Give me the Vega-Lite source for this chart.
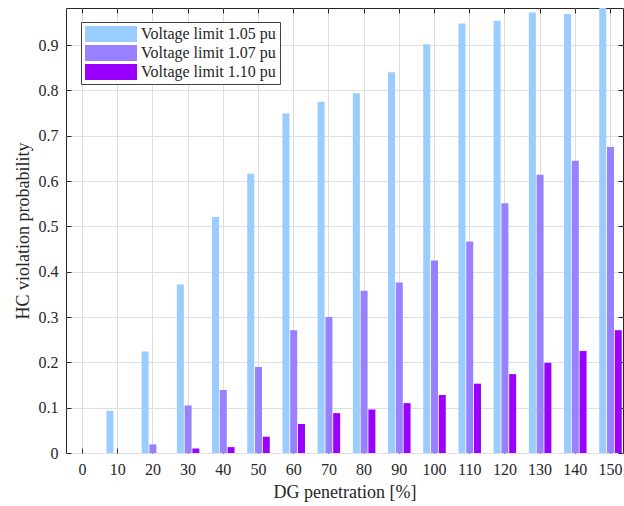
{
  "$schema": "https://vega.github.io/schema/vega-lite/v6.json",
  "width": 557,
  "height": 445,
  "autosize": {"type": "none"},
  "padding": {"left": 66, "top": 8, "right": 1, "bottom": 53},
  "config": {
    "view": {"stroke": "#262626", "strokeWidth": 1},
    "font": "Liberation Serif",
    "axis": {
      "labelFont": "Liberation Serif",
      "labelFontSize": 16,
      "labelColor": "#262626",
      "titleFont": "Liberation Serif",
      "titleFontSize": 18,
      "titleFontWeight": "normal",
      "titleColor": "#262626",
      "gridColor": "#dedede",
      "gridWidth": 1,
      "tickColor": "#262626",
      "domain": false
    }
  },
  "data": {
    "values": [
      {"p": 0, "s": "Voltage limit 1.05 pu", "v": 0},
      {"p": 10, "s": "Voltage limit 1.05 pu", "v": 0.093},
      {"p": 20, "s": "Voltage limit 1.05 pu", "v": 0.224},
      {"p": 30, "s": "Voltage limit 1.05 pu", "v": 0.372},
      {"p": 40, "s": "Voltage limit 1.05 pu", "v": 0.521},
      {"p": 50, "s": "Voltage limit 1.05 pu", "v": 0.616},
      {"p": 60, "s": "Voltage limit 1.05 pu", "v": 0.749},
      {"p": 70, "s": "Voltage limit 1.05 pu", "v": 0.775},
      {"p": 80, "s": "Voltage limit 1.05 pu", "v": 0.794},
      {"p": 90, "s": "Voltage limit 1.05 pu", "v": 0.84},
      {"p": 100, "s": "Voltage limit 1.05 pu", "v": 0.902},
      {"p": 110, "s": "Voltage limit 1.05 pu", "v": 0.948},
      {"p": 120, "s": "Voltage limit 1.05 pu", "v": 0.954},
      {"p": 130, "s": "Voltage limit 1.05 pu", "v": 0.972},
      {"p": 140, "s": "Voltage limit 1.05 pu", "v": 0.969},
      {"p": 150, "s": "Voltage limit 1.05 pu", "v": 0.99},
      {"p": 0, "s": "Voltage limit 1.07 pu", "v": 0},
      {"p": 10, "s": "Voltage limit 1.07 pu", "v": 0},
      {"p": 20, "s": "Voltage limit 1.07 pu", "v": 0.019},
      {"p": 30, "s": "Voltage limit 1.07 pu", "v": 0.105},
      {"p": 40, "s": "Voltage limit 1.07 pu", "v": 0.139},
      {"p": 50, "s": "Voltage limit 1.07 pu", "v": 0.19},
      {"p": 60, "s": "Voltage limit 1.07 pu", "v": 0.271},
      {"p": 70, "s": "Voltage limit 1.07 pu", "v": 0.3},
      {"p": 80, "s": "Voltage limit 1.07 pu", "v": 0.358},
      {"p": 90, "s": "Voltage limit 1.07 pu", "v": 0.376},
      {"p": 100, "s": "Voltage limit 1.07 pu", "v": 0.425},
      {"p": 110, "s": "Voltage limit 1.07 pu", "v": 0.467},
      {"p": 120, "s": "Voltage limit 1.07 pu", "v": 0.551},
      {"p": 130, "s": "Voltage limit 1.07 pu", "v": 0.614},
      {"p": 140, "s": "Voltage limit 1.07 pu", "v": 0.645},
      {"p": 150, "s": "Voltage limit 1.07 pu", "v": 0.675},
      {"p": 0, "s": "Voltage limit 1.10 pu", "v": 0},
      {"p": 10, "s": "Voltage limit 1.10 pu", "v": 0},
      {"p": 20, "s": "Voltage limit 1.10 pu", "v": 0},
      {"p": 30, "s": "Voltage limit 1.10 pu", "v": 0.01},
      {"p": 40, "s": "Voltage limit 1.10 pu", "v": 0.013},
      {"p": 50, "s": "Voltage limit 1.10 pu", "v": 0.036},
      {"p": 60, "s": "Voltage limit 1.10 pu", "v": 0.064},
      {"p": 70, "s": "Voltage limit 1.10 pu", "v": 0.088},
      {"p": 80, "s": "Voltage limit 1.10 pu", "v": 0.096},
      {"p": 90, "s": "Voltage limit 1.10 pu", "v": 0.11},
      {"p": 100, "s": "Voltage limit 1.10 pu", "v": 0.128},
      {"p": 110, "s": "Voltage limit 1.10 pu", "v": 0.153},
      {"p": 120, "s": "Voltage limit 1.10 pu", "v": 0.174},
      {"p": 130, "s": "Voltage limit 1.10 pu", "v": 0.199},
      {"p": 140, "s": "Voltage limit 1.10 pu", "v": 0.225},
      {"p": 150, "s": "Voltage limit 1.10 pu", "v": 0.271}
    ]
  },
  "layer": [
    {
      "mark": {"type": "bar", "clip": true},
      "encoding": {
        "x": {
          "field": "p",
          "type": "ordinal",
          "scale": {"paddingInner": 0.36, "paddingOuter": 0.092, "align": 0.81},
          "axis": {
            "orient": "bottom",
            "title": "DG penetration [%]",
            "labelAngle": 0,
            "bandPosition": 0.5,
            "tickSize": -5,
            "labelPadding": 13,
            "titlePadding": 6,
            "grid": true
          }
        },
        "xOffset": {"field": "s", "type": "nominal", "scale": {"paddingInner": 0.1}},
        "y": {
          "field": "v",
          "type": "quantitative",
          "scale": {"domain": [0, 0.982], "nice": false},
          "axis": {
            "orient": "left",
            "title": "HC violation probability",
            "values": [0, 0.1, 0.2, 0.3, 0.4, 0.5, 0.6, 0.7, 0.8, 0.9],
            "format": ".1~f",
            "tickSize": -5,
            "labelPadding": 13,
            "titlePadding": 6,
            "grid": true
          }
        },
        "color": {
          "field": "s",
          "type": "nominal",
          "scale": {
            "domain": ["Voltage limit 1.05 pu", "Voltage limit 1.07 pu", "Voltage limit 1.10 pu"],
            "range": ["#99ccff", "#9980ff", "#9900ff"]
          },
          "legend": {
            "orient": "none",
            "legendX": 15,
            "legendY": 14,
            "title": null,
            "symbolType": "M-3.25,-1H3.25V1H-3.25Z",
            "symbolSize": 256,
            "symbolOffset": 18,
            "symbolStrokeWidth": 0,
            "symbolOpacity": 1,
            "labelFont": "Liberation Serif",
            "labelFontSize": 16,
            "labelColor": "#262626",
            "strokeColor": "#404040",
            "fillColor": "white",
            "padding": 4,
            "rowPadding": 3,
            "labelOffset": 22
          }
        }
      }
    },
    {
      "mark": {"type": "bar", "opacity": 0},
      "encoding": {
        "x": {
          "field": "p",
          "type": "ordinal",
          "scale": {"paddingInner": 0.36, "paddingOuter": 0.092, "align": 0.81},
          "axis": {
            "orient": "top",
            "title": null,
            "labels": false,
            "bandPosition": 0.5,
            "tickSize": -5,
            "grid": false
          }
        },
        "y": {
          "field": "v",
          "type": "quantitative",
          "scale": {"domain": [0, 0.982], "nice": false},
          "axis": {
            "orient": "right",
            "title": null,
            "labels": false,
            "values": [0, 0.1, 0.2, 0.3, 0.4, 0.5, 0.6, 0.7, 0.8, 0.9],
            "tickSize": -5,
            "grid": false
          }
        }
      }
    }
  ],
  "resolve": {"axis": {"x": "independent", "y": "independent"}}
}
